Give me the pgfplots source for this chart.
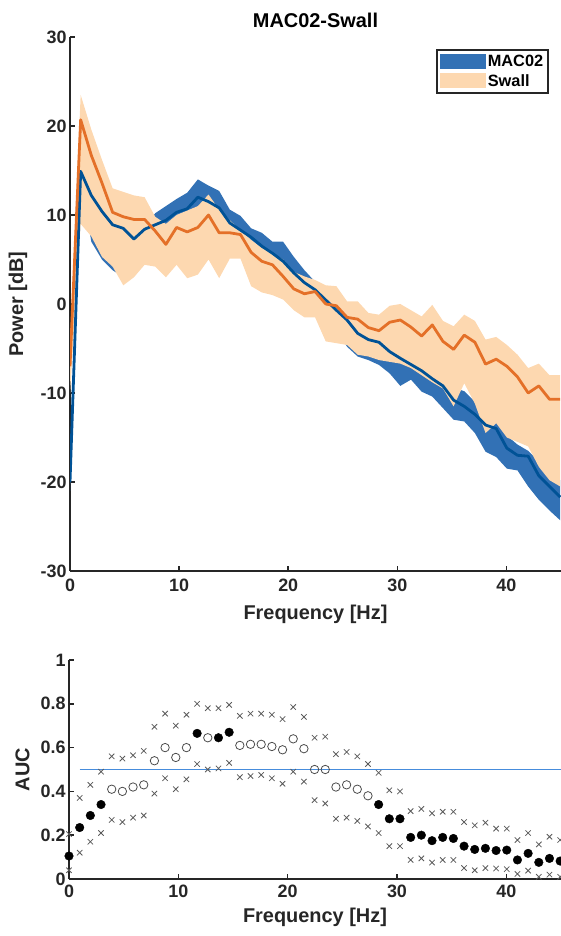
\documentclass[border=0pt]{standalone}
\usepackage{fontspec}
\setmainfont{Liberation Sans}
\usepackage{pgfplots}
\pgfplotsset{compat=1.18}
\usepackage{pgfplotstable}
\usepgfplotslibrary{fillbetween}

\definecolor{axiscol}{RGB}{38,38,38}
\definecolor{bandblue}{RGB}{50,113,181}
\definecolor{lineblue}{RGB}{0,82,150}
\definecolor{lineorange}{RGB}{228,112,40}
\definecolor{peach}{RGB}{253,216,176}
\definecolor{chanceblue}{RGB}{70,140,220}

\pgfplotstableread{
f M MU ML S SU SL
0.000 -20.0 -19.0 -21.0 -7.0 -5.0 -10.0
0.977 14.9 15.5 14.0 20.7 23.5 9.0
1.953 12.2 12.8 7.0 16.7 19.6 7.6
2.930 10.4 11.0 5.0 13.6 16.2 5.3
3.906 8.9 9.5 3.8 10.3 13.0 4.2
4.883 8.5 9.0 3.0 9.8 12.6 2.1
5.859 7.3 8.0 3.2 9.5 12.2 3.0
6.836 8.4 8.8 5.0 9.5 12.0 4.4
7.813 8.9 10.2 5.5 8.2 9.8 4.2
8.789 9.4 11.0 6.0 6.7 9.0 3.0
9.766 10.3 11.8 7.0 8.6 10.0 4.4
10.742 10.7 12.5 7.5 8.1 10.5 2.9
11.719 12.0 14.0 8.5 8.6 11.0 3.3
12.695 11.5 13.3 8.5 10.0 12.3 5.0
13.672 10.8 12.7 7.5 8.0 10.6 2.9
14.648 9.1 10.6 6.5 8.0 9.4 5.1
15.625 8.3 9.9 5.3 7.8 8.3 5.1
16.602 7.5 8.5 5.0 5.8 7.2 2.0
17.578 6.5 8.0 4.5 4.8 6.3 1.3
18.555 5.7 7.0 3.5 4.4 5.7 1.0
19.531 4.8 7.0 2.5 3.1 5.0 0.5
20.508 3.5 5.3 1.5 1.7 3.6 -0.7
21.484 2.4 3.8 0.5 1.15 3.1 -1.5
22.461 1.6 2.5 -0.3 1.4 2.7 -1.5
23.438 0.45 1.3 -1.4 0.0 2.1 -4.2
24.414 -0.7 0.0 -2.8 -0.2 2.0 -4.4
25.391 -1.8 -1.0 -4.8 -1.5 0.3 -4.6
26.367 -3.3 -2.5 -5.9 -1.7 0.3 -5.7
27.344 -4.0 -3.2 -6.3 -2.65 -1.0 -5.9
28.320 -4.3 -3.5 -6.85 -3.0 -1.2 -6.3
29.297 -5.35 -4.5 -7.8 -2.05 -0.2 -6.5
30.273 -6.1 -5.2 -9.2 -1.8 0.0 -6.7
31.250 -6.8 -5.9 -8.5 -2.6 -0.7 -7.2
32.227 -7.5 -6.5 -9.85 -3.6 -1.4 -8.0
33.203 -8.4 -7.5 -10.4 -2.35 -0.1 -8.8
34.180 -9.2 -8.3 -11.7 -4.2 -1.9 -9.5
35.156 -10.8 -9.4 -13.0 -5.1 -2.5 -11.5
36.133 -11.5 -9.8 -13.2 -3.5 -1.2 -8.9
37.109 -12.4 -11.0 -14.5 -4.3 -1.9 -11.2
38.086 -13.6 -12.5 -16.6 -6.75 -4.0 -14.5
39.063 -14.0 -12.9 -17.2 -6.2 -3.7 -13.4
40.039 -16.2 -14.8 -18.5 -7.0 -4.6 -15.0
41.016 -17.0 -15.8 -18.7 -8.2 -5.7 -15.5
41.992 -17.1 -16.5 -20.5 -10.0 -7.2 -16.0
42.969 -19.3 -17.7 -22.0 -9.2 -6.7 -18.3
43.945 -20.5 -18.8 -23.2 -10.7 -8.0 -19.8
44.922 -21.7 -19.8 -24.3 -10.7 -8.0 -20.5
}\psd

% Af: filled (significant) AUC values, Ao: open (non-significant) AUC values
\pgfplotstableread{
f AU AL Af Ao
0.000 0.205 0.04 0.105 nan
0.977 0.37 0.12 0.235 nan
1.953 0.43 0.17 0.29 nan
2.930 0.49 0.21 0.34 nan
3.906 0.56 0.27 nan 0.41
4.883 0.55 0.26 nan 0.40
5.859 0.565 0.28 nan 0.42
6.836 0.585 0.29 nan 0.43
7.813 0.695 0.39 nan 0.54
8.789 0.755 0.46 nan 0.60
9.766 0.70 0.41 nan 0.555
10.742 0.75 0.455 nan 0.60
11.719 0.80 0.525 0.665 nan
12.695 0.78 0.50 nan 0.645
13.672 0.78 0.505 0.645 nan
14.648 0.795 0.53 0.67 nan
15.625 0.745 0.465 nan 0.61
16.602 0.755 0.47 nan 0.615
17.578 0.755 0.475 nan 0.615
18.555 0.75 0.46 nan 0.605
19.531 0.73 0.435 nan 0.59
20.508 0.785 0.49 nan 0.64
21.484 0.74 0.445 nan 0.595
22.461 0.645 0.36 nan 0.50
23.438 0.65 0.345 nan 0.50
24.414 0.57 0.275 nan 0.42
25.391 0.58 0.28 nan 0.43
26.367 0.56 0.265 nan 0.41
27.344 0.525 0.24 nan 0.38
28.320 0.485 0.21 0.34 nan
29.297 0.405 0.15 0.275 nan
30.273 0.40 0.15 0.275 nan
31.250 0.31 0.087 0.19 nan
32.227 0.32 0.094 0.20 nan
33.203 0.30 0.075 0.175 nan
34.180 0.307 0.087 0.19 nan
35.156 0.307 0.087 0.185 nan
36.133 0.26 0.05 0.15 nan
37.109 0.245 0.04 0.135 nan
38.086 0.257 0.05 0.14 nan
39.063 0.23 0.048 0.13 nan
40.039 0.23 0.045 0.132 nan
41.016 0.178 0.023 0.087 nan
41.992 0.21 0.038 0.117 nan
42.969 0.158 0.01 0.076 nan
43.945 0.193 0.02 0.094 nan
44.922 0.178 0.01 0.082 nan
}\auc

\pgfplotstableread{
f c
0.977 0.5
45 0.5
}\chance

\pgfplotsset{
  matstyle/.style={
    scale only axis,
    axis lines=left,
    axis line style={-, line width=1.6bp, color=axiscol},
    tick align=inside,
    major tick length=5bp,
    tick style={line width=1.6bp, color=axiscol},
    ticklabel style={font=\fontsize{18}{21}\selectfont\bfseries, text=axiscol},
    /pgf/number format/assume math mode=true,
    label style={font=\fontsize{20}{24}\selectfont\bfseries, text=axiscol},
    xmin=0, xmax=45,
    xtick={0,10,20,30,40},
  }
}

\begin{document}
\begin{tikzpicture}[trim left=0bp, trim right=561bp]
\path (0,0) rectangle (561bp,936bp);

% ---------- top axis ----------
\begin{axis}[matstyle,
  at={(70bp,365bp)}, anchor=south west,
  width=491bp, height=534bp,
  ymin=-30, ymax=30,
  ytick={-30,-20,-10,0,10,20,30},
  xticklabel style={yshift=-4bp},
  xlabel={Frequency [Hz]},
  ylabel={Power [dB]},
  xlabel style={at={(axis description cs:0.5,-0.082)}, anchor=center},
  ylabel style={at={(axis description cs:-0.106,0.5)}, anchor=center},
  title={MAC02-Swall},
  title style={at={(axis description cs:0.5,1.019)}, anchor=center, font=\fontsize{20}{24}\selectfont\bfseries, text=black},
  legend style={at={(0.9756,0.9775)}, anchor=north east, draw=axiscol, line width=1.6bp,
    font=\fontsize{16.4}{19}\selectfont\bfseries, inner xsep=3bp, inner ysep=4bp,
    row sep=3bp, cells={anchor=west}, nodes={inner xsep=2bp, inner ysep=1.5bp}},
  legend image code/.code={\path[#1] (0bp,-7.5bp) rectangle (46bp,7.5bp);},
]
\addlegendimage{fill=bandblue, draw=none}
\addlegendentry{MAC02}
\addlegendimage{fill=peach, draw=none}
\addlegendentry{Swall}

\addplot[draw=none, name path=mu, forget plot] table[x=f,y=MU]{\psd};
\addplot[draw=none, name path=ml, forget plot] table[x=f,y=ML]{\psd};
\addplot[fill=bandblue, draw=none, forget plot] fill between[of=mu and ml];
\addplot[draw=none, name path=su, forget plot] table[x=f,y=SU]{\psd};
\addplot[draw=none, name path=sl, forget plot] table[x=f,y=SL]{\psd};
\addplot[fill=peach, draw=none, forget plot] fill between[of=su and sl];
\addplot[draw=lineblue, line width=2.8bp, line join=round, forget plot] table[x=f,y=M]{\psd};
\addplot[draw=lineorange, line width=2.8bp, line join=round, forget plot] table[x=f,y=S]{\psd};
\end{axis}

% ---------- bottom axis ----------
\begin{axis}[matstyle,
  at={(69bp,57bp)}, anchor=south west,
  width=492bp, height=219bp,
  clip=false,
  ymin=0, ymax=1,
  ytick={0,0.2,0.4,0.6,0.8,1},
  yticklabel style={/pgf/number format/.cd, fixed, precision=1},
  xticklabel style={yshift=-2bp},
  xlabel={Frequency [Hz]},
  ylabel={AUC},
  xlabel style={at={(axis description cs:0.5,-0.174)}, anchor=center},
  ylabel style={at={(axis description cs:-0.0945,0.5)}, anchor=center},
  unbounded coords=discard,
]
\addplot[draw=chanceblue, line width=1.5bp, mark=none] table[x=f,y=c]{\chance};
\addplot[only marks, mark=x, mark size=3.8bp, mark options={draw=black!65, line width=0.8bp}] table[x=f,y=AU]{\auc};
\addplot[only marks, mark=x, mark size=3.8bp, mark options={draw=black!65, line width=0.8bp}] table[x=f,y=AL]{\auc};
\addplot[only marks, mark=o, mark size=4.2bp, mark options={draw=black!70, line width=0.8bp}] table[x=f,y=Ao]{\auc};
\addplot[only marks, mark=*, mark size=4.3bp, mark options={draw=black, fill=black}] table[x=f,y=Af]{\auc};
\end{axis}
\end{tikzpicture}
\end{document}
